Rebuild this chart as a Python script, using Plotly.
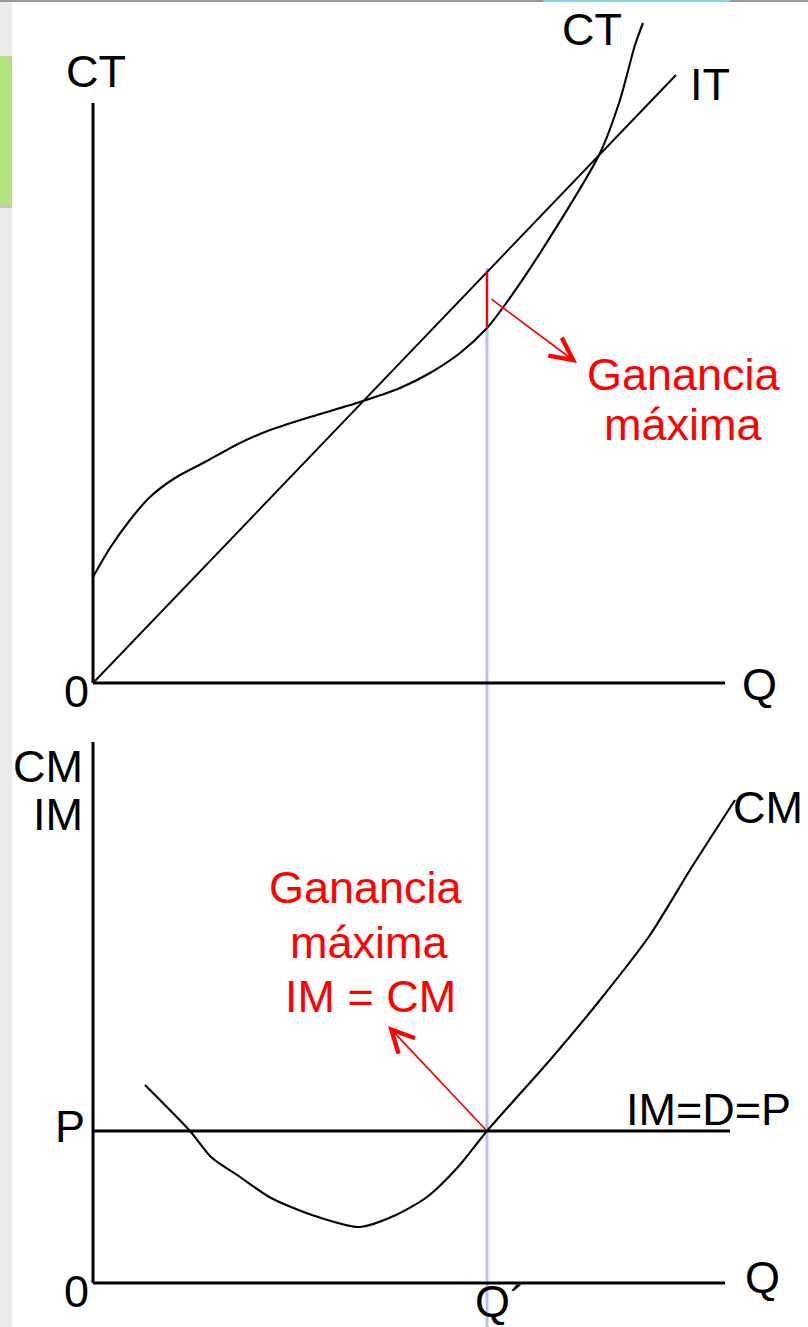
import plotly.graph_objects as go

W, H = 808, 1327
FONT = "Liberation Sans, Arial, sans-serif"
RED = "#FF0000"
BLUE = "#BBBBFF"

# top panel: total cost / total revenue
q_ct = [0, 17, 37, 57, 82, 112, 147, 177, 217, 267, 307, 337, 367, 394, 414, 449, 507, 527, 542, 550]
ct = [106, 135, 163, 186, 205, 221, 240, 253, 266, 281, 295, 310, 330, 355, 381, 433, 530, 583, 638, 660]
q_it = [0, 583]
it = [0, 608]

# bottom panel: marginal cost / marginal revenue
q_cm = [52, 97, 118, 147, 178, 219, 266, 303, 334, 365, 394, 457, 507, 557, 597, 642]
cm = [198, 152, 126, 106, 85, 68, 56, 68, 86, 116, 152, 223, 283, 348, 413, 483]
price = 152
q_im = [0, 637]

q_star = 394
ct_star, it_star = 355, 411
q_axis_end = 632
top_axis_h = 580
bot_axis_h = 541

# panel geometry (pixels)
SPLIT = 700 / H
TOP_DOM = [1 - SPLIT, 1]
BOT_DOM = [0, 1 - SPLIT]

fig = go.Figure()


def line(x, y, yaxis="y", color="black", width=2, shape="linear"):
    fig.add_trace(go.Scatter(x=x, y=y, mode="lines", yaxis=yaxis, hoverinfo="skip",
                             line=dict(color=color, width=width, shape=shape, smoothing=0.7),
                             showlegend=False))


# top panel
line([0, 0], [0, top_axis_h], width=3)
line([0, q_axis_end], [0, 0], width=3)
line(q_it, it, width=1.9)
line(q_ct, ct, width=2.1, shape="spline")
line([q_star, q_star], [ct_star, it_star], color=RED, width=2.2)

# bottom panel
line([0, 0], [0, bot_axis_h], yaxis="y2", width=3)
line([0, q_axis_end], [0, 0], yaxis="y2", width=3)
line(q_im, [price, price], yaxis="y2", width=2.8)
line(q_cm, cm, yaxis="y2", width=2.1, shape="spline")

# Q' guide through both panels
fig.add_shape(type="line", xref="x", yref="paper", x0=q_star, x1=q_star,
              y0=0, y1=(H - 268) / H, line=dict(color=BLUE, width=3), layer="below")

# page decorations
fig.add_shape(type="rect", xref="paper", yref="paper", x0=0, x1=12 / W, y0=0, y1=1,
              fillcolor="#EAEAEA", line_width=0, layer="below")
fig.add_shape(type="rect", xref="paper", yref="paper", x0=0, x1=12 / W,
              y0=1 - 208 / H, y1=1 - 205 / H, fillcolor="#C4C4C4", line_width=0, layer="below")
fig.add_shape(type="rect", xref="paper", yref="paper", x0=0, x1=12 / W,
              y0=1 - 205 / H, y1=1 - 56 / H, fillcolor="#B4E37F", line_width=0, layer="below")
fig.add_shape(type="rect", xref="paper", yref="paper", x0=0, x1=1, y0=1 - 2 / H, y1=1,
              fillcolor="#9A9A9A", line_width=0)
fig.add_shape(type="rect", xref="paper", yref="paper", x0=543 / W, x1=730 / W,
              y0=1 - 2 / H, y1=1, fillcolor="#7FD4E6", line_width=0)


def label(text, x, y, yref="y", color="black", xanchor="center"):
    fig.add_annotation(text=text, x=x, y=y, xref="x", yref=yref, showarrow=False,
                       xanchor=xanchor, yanchor="middle",
                       font=dict(family=FONT, size=45, color=color))


# top labels (x, y in panel units)
label("CT", 3, 683 - 71)
label("CT", 499, 683 - 29)
label("IT", 595, 683 - 84, xanchor="left")
label("0", -17, 683 - 691)
label("Q", 666, 683 - 684)
label("Q´", 380, 683 - 709, xanchor="left")
label("Ganancia", 591, 683 - 374, color=RED)
label("máxima", 590, 683 - 424, color=RED)

# bottom labels
label("CM", -8, 1283 - 766, yref="y2", xanchor="right")
label("IM", -8, 1283 - 814, yref="y2", xanchor="right")
label("CM", 675, 1283 - 807, yref="y2")
label("P", -23, 1283 - 1126, yref="y2")
label("IM=D=P", 615, 1283 - 1109, yref="y2")
label("0", -17, 1283 - 1291, yref="y2")
label("Q", 669, 1283 - 1277, yref="y2")
label("Q´", 380, 1283 - 1301, yref="y2", xanchor="left")
label("Ganancia", 273, 1283 - 887, yref="y2", color=RED)
label("máxima", 276, 1283 - 942, yref="y2", color=RED)
label("IM = CM", 277, 1283 - 996, yref="y2", color=RED)

# arrows
fig.add_annotation(x=484, y=320, ax=397, ay=385, xref="x", yref="y", axref="x", ayref="y",
                   text="", showarrow=True, arrowhead=5, arrowsize=2.6, arrowwidth=1.7,
                   arrowcolor=RED)
fig.add_annotation(x=295, y=257, ax=q_star, ay=price, xref="x", yref="y2", axref="x", ayref="y2",
                   text="", showarrow=True, arrowhead=5, arrowsize=2.6, arrowwidth=1.7,
                   arrowcolor=RED)

fig.update_layout(
    width=W,
    height=H,
    margin=dict(l=0, r=0, t=0, b=0),
    paper_bgcolor="white",
    plot_bgcolor="rgba(0,0,0,0)",
    xaxis=dict(range=[-93, W - 93], domain=[0, 1], visible=False, fixedrange=True),
    yaxis=dict(range=[683 - 700, 683], domain=TOP_DOM, visible=False, fixedrange=True),
    yaxis2=dict(range=[1283 - H, 1283 - 700], domain=BOT_DOM, anchor="x",
                visible=False, fixedrange=True),
)

# the page's default body margin would shift the figure by 8px
fig.write_html("out.html", config={"displayModeBar": False},
               post_script="document.body.style.margin='0px';")
